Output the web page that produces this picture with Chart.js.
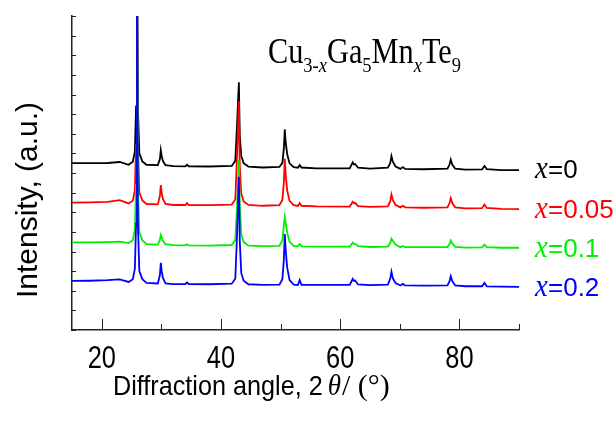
<!DOCTYPE html>
<html>
<head>
<meta charset="utf-8">
<script src="https://cdn.jsdelivr.net/npm/chart.js@4"></script>
<style>
  body { margin: 0; background: #fff; }
  #wrap { width: 614px; height: 422px; }
</style>
</head>
<body>
<div id="wrap"><canvas id="xrd" width="614" height="422"></canvas></div>
<script>
// 2 theta positions (deg), shared by all patterns
const angles = [15, 18, 21, 23, 24.5, 25.2, 25.55, 25.75, 25.9, 26.05, 26.3, 26.8, 27.5,
  29.4, 29.75, 29.9, 30.05, 30.25, 30.7, 32, 34.0, 34.3, 34.6, 38, 41.8, 42.4, 42.7, 43.0,
  43.15, 43.4, 43.8, 44.6, 47, 49.8, 50.3, 50.55, 50.7, 50.85, 51.1, 51.5, 52.2, 52.9, 53.2,
  53.5, 56, 61.6, 62.1, 62.3, 62.5, 63.0, 65, 68.0, 68.4, 68.6, 68.85, 69.3, 70.1, 70.5, 70.9,
  74, 78.0, 78.35, 78.55, 78.8, 79.3, 81, 83.8, 84.2, 84.6, 87, 90];

// stacked intensities (a.u.), offset already included
const x0 = [8.50, 8.50, 8.51, 8.56, 8.42, 8.57, 9.10, 11.4, 20, 11.4, 9.00, 8.59, 8.42,
  8.40, 8.71, 9.16, 8.86, 8.61, 8.40, 8.35, 8.34, 8.42, 8.34, 8.33, 8.36, 8.62, 10.52, 12.62,
  9.92, 8.87, 8.50, 8.33, 8.28, 8.31, 8.52, 9.27, 10.22, 9.57, 8.97, 8.49, 8.30, 8.27, 8.40,
  8.28, 8.24, 8.24, 8.54, 8.44, 8.46, 8.27, 8.22, 8.27, 8.51, 8.86, 8.56, 8.33, 8.21, 8.30, 8.21,
  8.19, 8.22, 8.43, 8.68, 8.43, 8.22, 8.17, 8.18, 8.36, 8.20, 8.15, 8.15];
const x005 = [6.49, 6.50, 6.53, 6.62, 6.45, 6.59, 7.13, 9.42, 20, 9.42, 7.01, 6.60, 6.42,
  6.40, 6.83, 7.38, 6.98, 6.68, 6.42, 6.37, 6.37, 6.47, 6.37, 6.36, 6.39, 6.65, 8.95, 11.65,
  8.35, 6.95, 6.55, 6.37, 6.33, 6.36, 6.63, 7.53, 8.73, 7.93, 7.13, 6.58, 6.36, 6.32, 6.46,
  6.33, 6.30, 6.29, 6.53, 6.46, 6.48, 6.31, 6.27, 6.30, 6.55, 6.90, 6.60, 6.37, 6.25, 6.33, 6.25,
  6.23, 6.25, 6.47, 6.72, 6.47, 6.25, 6.20, 6.21, 6.39, 6.22, 6.17, 6.16];
const x01 = [4.47, 4.47, 4.48, 4.50, 4.43, 4.57, 5.11, 7.40, 20, 7.40, 4.99, 4.58, 4.38,
  4.35, 4.59, 4.84, 4.74, 4.54, 4.37, 4.32, 4.31, 4.37, 4.31, 4.30, 4.33, 4.58, 6.28, 8.68,
  6.28, 4.88, 4.48, 4.30, 4.27, 4.29, 4.56, 5.36, 5.76, 5.46, 4.96, 4.51, 4.28, 4.26, 4.38,
  4.26, 4.25, 4.25, 4.45, 4.39, 4.39, 4.27, 4.23, 4.25, 4.43, 4.65, 4.53, 4.35, 4.22, 4.28, 4.22,
  4.22, 4.23, 4.39, 4.56, 4.41, 4.24, 4.20, 4.21, 4.35, 4.22, 4.19, 4.19];
const x02 = [2.50, 2.51, 2.54, 2.58, 2.45, 2.59, 3.13, 5.42, 20, 5.42, 3.00, 2.59, 2.40,
  2.37, 2.80, 3.42, 3.00, 2.65, 2.38, 2.34, 2.34, 2.42, 2.34, 2.33, 2.36, 2.61, 4.91, 7.81,
  4.51, 2.91, 2.51, 2.33, 2.30, 2.31, 2.59, 3.59, 4.89, 4.09, 3.19, 2.54, 2.31, 2.29, 2.54,
  2.30, 2.30, 2.30, 2.60, 2.50, 2.52, 2.32, 2.29, 2.31, 2.62, 2.97, 2.62, 2.39, 2.27, 2.35, 2.27,
  2.26, 2.27, 2.49, 2.74, 2.49, 2.27, 2.23, 2.23, 2.40, 2.22, 2.21, 2.20];

const labels = ["=0", "=0.05", "=0.1", "=0.2"];
const colors = ["#000000", "#ff0000", "#00ee00", "#0000ff"];
const series = [x0, x005, x01, x02];

const xTicks = [20, 30, 40, 50, 60, 70, 80, 90];
const xLabelTicks = [20, 40, 60, 80];
const yTicks = [0, 1, 2, 3, 4, 5, 6, 7, 8, 9, 10, 11, 12, 13, 14, 15, 16];

const SANS = "'Liberation Sans', Arial, sans-serif";
const SERIF = "'Liberation Serif', 'Times New Roman', serif";

function drawText(ctx, s, x, y, font, color, sx, align) {
  ctx.save();
  ctx.font = font;
  ctx.fillStyle = color;
  ctx.textAlign = align || "left";
  ctx.textBaseline = "alphabetic";
  ctx.translate(x, y);
  ctx.scale(sx, 1);
  ctx.fillText(s, 0, 0);
  const w = ctx.measureText(s).width * sx;
  ctx.restore();
  return w;
}

const decor = {
  id: "decor",
  afterDraw(chart) {
    const ctx = chart.ctx;
    const xs = chart.scales.x, ys = chart.scales.y;
    const area = chart.chartArea;

    // inward tick marks
    ctx.save();
    ctx.strokeStyle = "#222";
    ctx.lineWidth = 1;
    ctx.beginPath();
    xTicks.forEach(v => {
      const px = Math.round(xs.getPixelForValue(v)) + 0.5;
      const len = xLabelTicks.includes(v) ? 11 : 6;
      ctx.moveTo(px, area.bottom);
      ctx.lineTo(px, area.bottom - len);
    });
    yTicks.forEach(v => {
      const py = Math.round(ys.getPixelForValue(v)) + 0.5;
      ctx.moveTo(area.left, py);
      ctx.lineTo(area.left + 4, py);
    });
    ctx.stroke();
    ctx.restore();

    // tick labels
    xLabelTicks.forEach(v => {
      drawText(ctx, String(v), xs.getPixelForValue(v), 368, "31px " + SANS, "#000", 0.82, "center");
    });

    // x axis title
    let cx = 113;
    cx += drawText(ctx, "Diffraction angle, 2", cx, 395, "28px " + SANS, "#000", 0.9);
    cx += 5;
    cx += drawText(ctx, "\u03B8", cx, 395, "italic 30px " + SERIF, "#000", 0.9);
    drawText(ctx, "/ (\u00B0)", cx + 1, 395, "30px " + SERIF, "#000", 1);

    // y axis title
    ctx.save();
    ctx.translate(37, 200);
    ctx.rotate(-Math.PI / 2);
    ctx.font = "30px " + SANS;
    ctx.fillStyle = "#000";
    ctx.textAlign = "center";
    ctx.fillText("Intensity, (a.u.)", 0, 0);
    ctx.restore();

    // formula
    const main = "36px " + SERIF, sub = "22px " + SERIF, subI = "italic 22px " + SERIF;
    const parts = [["Cu", main, 0], ["3-", sub, 1], ["x", subI, 1], ["Ga", main, 0], ["5", sub, 1],
      ["Mn", main, 0], ["x", subI, 1], ["Te", main, 0], ["9", sub, 1]];
    let total = 0;
    parts.forEach(p => { ctx.font = p[1]; total += ctx.measureText(p[0]).width; });
    const sx = 193 / total;
    let fx = 268;
    parts.forEach(p => {
      fx += drawText(ctx, p[0], fx, p[2] ? 72 : 63, p[1], "#000", sx);
    });

    // series labels
    const ly = [178, 217.7, 256.7, 295.7];
    labels.forEach((s, i) => {
      drawText(ctx, "x", 535, ly[i], "italic 32px " + SERIF, colors[i], 0.9);
      drawText(ctx, s, 548, ly[i], "26px " + SANS, colors[i], 1);
    });
  }
};

new Chart(document.getElementById("xrd"), {
  type: "scatter",
  data: {
    datasets: series.map((vals, i) => ({
      label: "x" + labels[i],
      data: angles.map((a, j) => ({ x: a, y: vals[j] })),
      showLine: true,
      borderColor: colors[i],
      backgroundColor: colors[i],
      borderWidth: 1.8,
      pointRadius: 0,
      tension: 0,
      clip: 0,
      order: series.length - 1 - i
    }))
  },
  options: {
    responsive: false,
    animation: false,
    layout: { padding: { left: 72, right: 95, top: 16, bottom: 92 } },
    plugins: { legend: { display: false }, tooltip: { enabled: false } },
    scales: {
      x: {
        type: "linear",
        min: 15, max: 90,
        afterBuildTicks: s => { s.ticks = xTicks.map(v => ({ value: v })); },
        ticks: { display: false },
        grid: { display: true, drawOnChartArea: false, drawTicks: false },
        border: { display: true, color: "#222", width: 1.5 }
      },
      y: {
        type: "linear",
        min: 0, max: 16,
        afterBuildTicks: s => { s.ticks = yTicks.map(v => ({ value: v })); },
        ticks: { display: false },
        grid: { display: true, drawOnChartArea: false, drawTicks: false },
        border: { display: true, color: "#222", width: 1.5 }
      }
    }
  },
  plugins: [decor]
});
</script>
</body>
</html>
